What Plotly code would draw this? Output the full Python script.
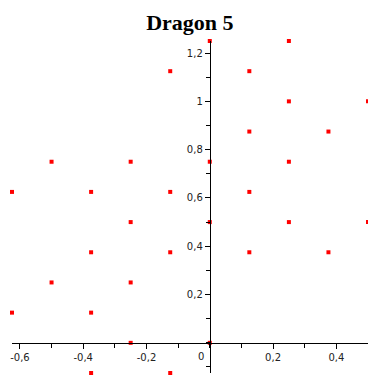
import plotly.graph_objects as go

# Dragon curve (level 5) vertices
dragon_x = [0, 0.25,
            -0.125, 0.125,
            0.25, 0.5,
            0.125, 0.375,
            -0.5, -0.25, 0, 0.25,
            -0.625, -0.375, -0.125, 0.125,
            -0.25, 0, 0.25, 0.5,
            -0.375, -0.125, 0.125, 0.375,
            -0.5, -0.25,
            -0.625, -0.375,
            -0.25, 0,
            -0.375, -0.125]
dragon_y = [1.25, 1.25,
            1.125, 1.125,
            1.0, 1.0,
            0.875, 0.875,
            0.75, 0.75, 0.75, 0.75,
            0.625, 0.625, 0.625, 0.625,
            0.5, 0.5, 0.5, 0.5,
            0.375, 0.375, 0.375, 0.375,
            0.25, 0.25,
            0.125, 0.125,
            0.0, 0.0,
            -0.125, -0.125]

x_tick_vals = [-0.6, -0.4, -0.2, 0.2, 0.4]
x_tick_text = ["-0,6", "-0,4", "-0,2", "0,2", "0,4"]
y_tick_vals = [0.2, 0.4, 0.6, 0.8, 1.0, 1.2]
y_tick_text = ["0,2", "0,4", "0,6", "0,8", "1", "1,2"]

x_range = [-0.625, 0.5]
y_range = [-0.125, 1.25]

fig = go.Figure()
fig.add_trace(go.Scatter(
    x=dragon_x, y=dragon_y, mode="markers",
    marker=dict(symbol="square", size=4, color="#ff0000", line=dict(width=0)),
    cliponaxis=False, showlegend=False, hoverinfo="skip"))

tick_font = dict(family="DejaVu Sans", size=10, color="#222222")

x_pos = (0 - y_range[0]) / (y_range[1] - y_range[0])
y_pos = (0 - x_range[0]) / (x_range[1] - x_range[0])

fig.update_layout(
    width=368, height=376,
    margin=dict(l=12, r=0, t=41, b=3, autoexpand=False),
    paper_bgcolor="white", plot_bgcolor="white",
    title=dict(text="<b>Dragon 5</b>", x=0.516, xanchor="center",
               y=1 - 22 / 376, yanchor="middle",
               font=dict(family="Liberation Serif", size=22, color="black")),
    xaxis=dict(range=x_range, anchor="free", position=x_pos, automargin=False,
               showline=True, linecolor="black", linewidth=1,
               showgrid=False, zeroline=False,
               tickvals=x_tick_vals, ticktext=x_tick_text,
               ticks="outside", ticklen=5, tickcolor="black", tickwidth=1,
               minor=dict(dtick=0.1, tick0=0, ticks="outside", ticklen=4,
                          tickcolor="black", tickwidth=1, showgrid=False),
               tickfont=tick_font),
    yaxis=dict(range=y_range, anchor="free", position=y_pos, side="left",
               automargin=False,
               showline=True, linecolor="black", linewidth=1,
               showgrid=False, zeroline=False,
               tickvals=y_tick_vals, ticktext=y_tick_text,
               ticks="outside", ticklen=5, tickcolor="black", tickwidth=1,
               minor=dict(dtick=0.1, tick0=0, ticks="outside", ticklen=4,
                          tickcolor="black", tickwidth=1, showgrid=False),
               tickfont=tick_font),
    annotations=[dict(x=0, y=0, xref="x", yref="y", text="0", showarrow=False,
                      xanchor="right", yanchor="top", xshift=-4, yshift=-6,
                      font=tick_font)],
)

fig.write_html("out.html",
               config={"displayModeBar": False},
               post_script="document.body.style.margin='0px';"
                           "document.body.style.overflow='hidden';")
